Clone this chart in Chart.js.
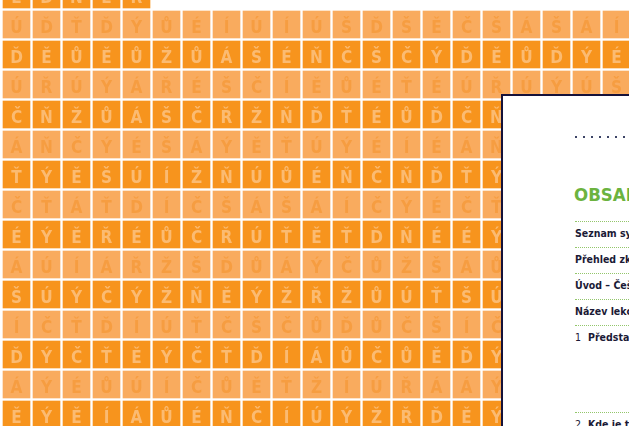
<!DOCTYPE html>
<html>
<head>
<meta charset="utf-8">
<script src="https://cdn.jsdelivr.net/npm/chart.js@4.4.0/dist/chart.umd.min.js"></script>
<style>
    html, body { margin: 0; padding: 0; background: #fff; overflow: hidden; }
    #wrap { position: relative; width: 629px; height: 426px; }
    #page {
        position: absolute; left: 501px; top: 94px; width: 200px; height: 400px;
        background: #fff; border: 2px solid #15123a; box-sizing: border-box;
        font-family: "DejaVu Sans Condensed", "DejaVu Sans", sans-serif;
    }
    .dots { position: absolute; left: 72px; width: 80px; height: 2px;
        background: repeating-linear-gradient(90deg, #3c4466 0px, #3c4466 2px, transparent 2px, transparent 8px); }
    .gline { position: absolute; left: 72px; width: 80px; height: 0; border-top: 1px dotted #93c66a; }
    .item { position: absolute; left: 72px; font-size: 10.5px; font-weight: bold; color: #1b1a36; white-space: nowrap; line-height: 12px; }
    .num { font-weight: normal; margin-right: 7px; }
    #obsah { position: absolute; left: 71px; font-size: 18.5px; font-weight: bold; color: #6cb33f; line-height: 20px; }
</style>
</head>
<body>
<div id="wrap">
    <canvas id="grid" width="629" height="426"></canvas>
    <div id="page"></div>
</div>
<script>
// rows of letter tiles, top to bottom; even rows are dark, odd rows are light
var rows = [
    "ÉĎŇÉŘ",
    "ÚĎŤĎÝŮÉÍÚÍÚŠĎŠĚČŠÁŠÁÍ",
    "ĎĚŮĚŮŽŮÁŠÉŇČŠČÝĎĚŮĎÝÉ",
    "ÚŘÚÝÁŘÉŠČÍĚŮÉŤÉÚŘÚÝÚŠ",
    "ČŇŽŮÁŠČŘŽŇĎŤÉŮĎČŇ",
    "ÁŇČÝÉŠÁÝĚŤÚÝÉÍÉÁŇ",
    "ŤÝĚŠÚÍŽŇÚŮÉŇČŇĎŤÝ",
    "ČŤÁŤĎÍČŠÁŠÁÍČÝÉČŤ",
    "ÉÝĚŘÉŮČŘÚŤĚŤĎŇÉÉÝ",
    "ÁÚÍÁŘŽŠĎŮÁÝČŮŽŠÁŮ",
    "ŠÚÝČÝŽŇĚÝŽŘŽŮÚŤŠÚ",
    "ÍČŤĎÍÚŤČŠČŮĎŮČŠÍČ",
    "ĎÝČŤĚÝČŤĎÍÁŮČŮĚĎÝ",
    "ÁÝÉŮÚÍČŮĚŤŽÍÚŘÁÁÝ",
    "ĚÝĚÍÁŮÉŇČÍÚÝŽŘĎĚÝ"
];

var tileColors = ["#f7941d", "#f9ab5e"];
var letterColors = ["#fbbb72", "#f69d41"];

var tocTitle = "OBSAH";
var tocItems = ["Seznam symbolů", "Přehled zkratek", "Úvod – Čeština", "Název lekce"];
var tocChapters = [["1", "Představení"], ["2", "Kde je to"]];

var datasets = [];
rows.forEach((row, r) => {
    var data = [];
    Array.from(row).forEach((ch, c) => {
        data.push({x: c, y: [r - 0.45, r + 0.45]});
    });
    datasets.push({
        label: "row " + r,
        data: data,
        backgroundColor: tileColors[r % 2],
        borderWidth: 0,
        barThickness: 27,
        grouped: false
    });
});

var letterPlugin = {
    id: 'letters',
    afterDatasetsDraw(chart) {
        var ctx = chart.ctx;
        ctx.save();
        ctx.font = 'bold 17px "DejaVu Sans Condensed", "DejaVu Sans", sans-serif';
        ctx.textAlign = 'center';
        ctx.textBaseline = 'alphabetic';
        chart.data.datasets.forEach((ds, r) => {
            var meta = chart.getDatasetMeta(r);
            var letters = Array.from(rows[r]);
            ctx.fillStyle = letterColors[r % 2];
            meta.data.forEach((el, c) => {
                var cy = (el.y + el.base) / 2;
                ctx.fillText(letters[c], el.x, cy + 8);
            });
        });
        ctx.restore();
    }
};

new Chart(document.getElementById('grid'), {
    type: 'bar',
    data: {datasets: datasets},
    options: {
        responsive: false,
        animation: false,
        layout: {padding: 0},
        plugins: {legend: {display: false}, tooltip: {enabled: false}},
        scales: {
            x: {type: 'linear', min: -0.55, max: 20.4167, offset: false, display: false},
            y: {type: 'linear', min: 0.1833, max: 14.3833, reverse: true, display: false}
        }
    },
    plugins: [letterPlugin]
});

// the white contents page on top of the grid
var page = document.getElementById('page');
var html = '<div class="dots" style="top:40px"></div>';
html += '<div id="obsah" style="top:89px">' + tocTitle + '</div>';
var lineTops = [125, 151, 177, 203, 229, 316];
var textTops = [131, 157, 183, 209, 235, 322];
tocItems.forEach((t, i) => {
    html += '<div class="gline" style="top:' + lineTops[i] + 'px"></div>';
    html += '<div class="item" style="top:' + textTops[i] + 'px">' + t + '</div>';
});
tocChapters.forEach((t, i) => {
    var k = tocItems.length + i;
    html += '<div class="gline" style="top:' + lineTops[k] + 'px"></div>';
    html += '<div class="item" style="top:' + textTops[k] + 'px"><span class="num">' + t[0] + '</span>' + t[1] + '</div>';
});
page.innerHTML = html;
</script>
</body>
</html>
